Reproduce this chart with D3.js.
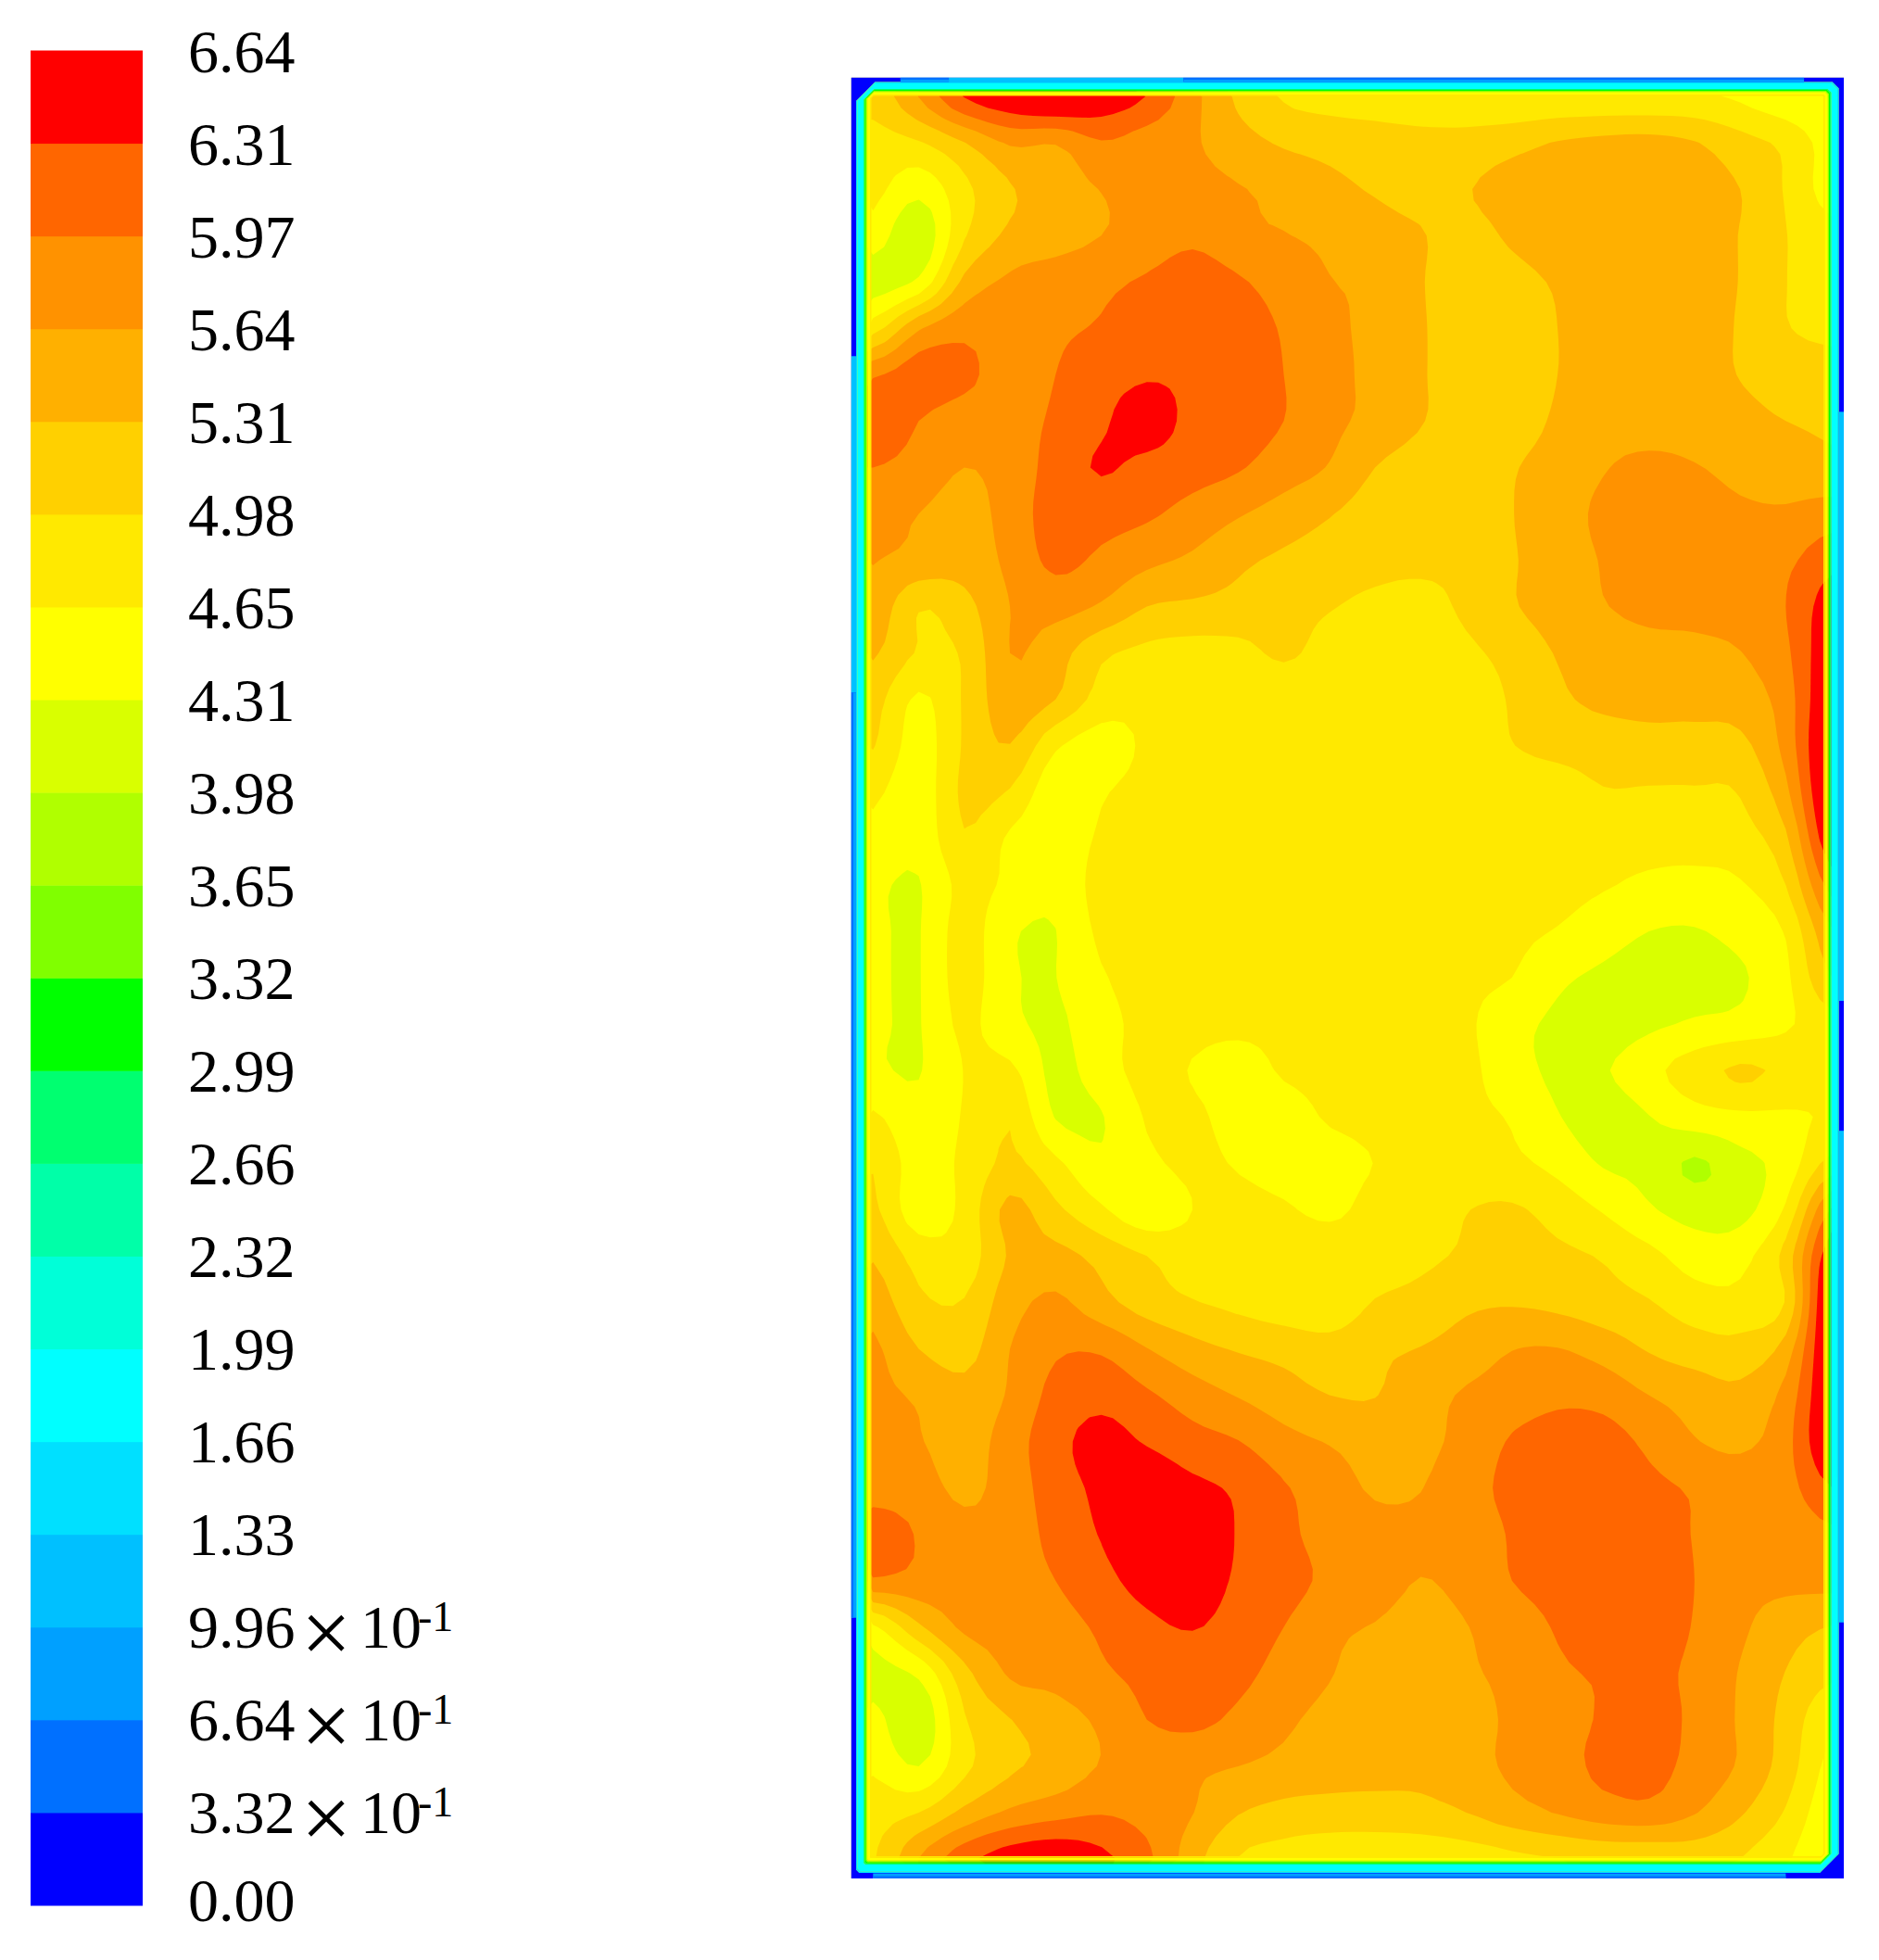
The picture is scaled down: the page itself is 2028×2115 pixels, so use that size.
<!DOCTYPE html>
<html>
<head>
<meta charset="utf-8">
<title>Contour</title>
<script src="https://cdn.jsdelivr.net/npm/d3@7"></script>
<style>
  html, body { margin: 0; padding: 0; background: #fff; }
  svg { display: block; }
  text { font-family: "Liberation Serif", "Times New Roman", serif; fill: #000; }
</style>
</head>
<body>
<div id="chart"></div>
<script>
// level values of the legend, bottom to top
const levels = [0, 0.332, 0.664, 0.996, 1.33, 1.66, 1.99, 2.32, 2.66, 2.99, 3.32, 3.65, 3.98, 4.31, 4.65, 4.98, 5.31, 5.64, 5.97, 6.31, 6.64];
const levelLabels = ['0.00', '3.32', '6.64', '9.96', '1.33', '1.66', '1.99', '2.32', '2.66', '2.99', '3.32', '3.65', '3.98', '4.31', '4.65', '4.98', '5.31', '5.64', '5.97', '6.31', '6.64'];
const levelExponents = [null, -1, -1, -1, null, null, null, null, null, null, null, null, null, null, null, null, null, null, null, null, null];
const bandColors = ['#0000ff', '#0070ff', '#00a0ff', '#00c0ff', '#00e0ff', '#00ffff', '#00ffd8', '#00ffa8', '#00ff70', '#00ff00', '#80ff00', '#b0ff00', '#d9ff00', '#ffff00', '#ffe900', '#ffd000', '#ffb000', '#ff9200', '#ff6600', '#ff0000'];

// field, one row per grid line from the top wall down
const fieldRows = [
  [5.1,5.65,6.33,6.6,6.77,6.56,6.3,5.75,5.25,4.95,4.85,4.8,4.75,4.75,4.7,4.7,4.7,4.7,4.7,4.6,4.4,4.3],
  [4.85,4.95,5.3,5.68,5.66,5.94,5.8,5.68,5.45,5.27,5.2,5.15,5.1,5.1,5.2,5.33,5.4,5.42,5.33,5.1,4.9,4.5],
  [4.75,4.42,4.9,5.28,5.5,5.65,5.8,5.75,5.66,5.55,5.4,5.28,5.2,5.29,5.45,5.5,5.5,5.5,5.45,5.31,4.95,4.5],
  [4.5,4.05,4.95,5.38,5.5,5.64,5.75,5.88,5.7,5.65,5.58,5.45,5.33,5.2,5.36,5.5,5.5,5.5,5.45,5.3,4.99,4.75],
  [4.15,4.38,5.4,5.7,5.82,5.9,6.02,6.2,6.02,5.8,5.65,5.58,5.33,5.15,5.2,5.35,5.5,5.5,5.45,5.3,4.99,4.7],
  [4.85,5.6,5.88,5.8,5.92,6.0,6.15,6.28,6.2,5.93,5.72,5.55,5.34,5.15,5.1,5.31,5.5,5.5,5.45,5.28,5.0,4.9],
  [5.93,6.15,6.05,5.82,5.97,6.15,6.27,6.25,6.15,5.97,5.75,5.55,5.34,5.15,5.1,5.31,5.45,5.5,5.42,5.3,5.18,5.1],
  [6.2,5.97,5.8,5.85,6.02,6.25,6.5,6.2,6.12,5.97,5.72,5.55,5.33,5.15,5.15,5.36,5.5,5.5,5.48,5.4,5.31,5.25],
  [5.97,5.85,5.64,5.78,6.1,6.34,6.2,6.1,6.0,5.8,5.62,5.31,5.15,5.05,5.28,5.45,5.62,5.72,5.66,5.55,5.5,5.4],
  [5.75,5.64,5.5,5.78,6.12,6.1,6.02,5.85,5.67,5.5,5.33,5.15,5.05,5.05,5.3,5.5,5.7,5.8,5.8,5.7,5.68,5.8],
  [5.65,5.55,5.45,5.72,6.05,5.9,5.72,5.58,5.38,5.25,5.15,5.08,5.05,5.05,5.28,5.48,5.66,5.8,5.85,5.85,5.9,6.2],
  [5.55,5.0,5.2,5.64,5.75,5.6,5.31,5.25,5.2,5.1,5.0,4.9,4.85,5.05,5.28,5.45,5.62,5.75,5.75,5.8,5.97,6.5],
  [5.35,4.95,5.02,5.64,5.45,5.05,4.9,4.85,4.88,5.03,4.85,4.75,4.7,4.9,5.1,5.33,5.42,5.5,5.55,5.63,5.9,6.6],
  [5.1,4.6,5.02,5.52,5.31,4.85,4.72,4.75,4.75,4.75,4.75,4.75,4.75,4.75,5.02,5.25,5.38,5.42,5.42,5.48,5.8,6.7],
  [5.0,4.5,5.02,5.3,4.7,4.5,4.7,4.75,4.75,4.75,4.75,4.75,4.75,4.78,4.97,5.08,5.13,5.18,5.18,5.22,5.75,6.8],
  [4.72,4.45,5.05,4.95,4.42,4.62,4.75,4.75,4.75,4.75,4.75,4.75,4.75,4.75,4.78,4.82,4.96,4.95,4.95,5.0,5.55,6.8],
  [4.55,4.42,4.95,4.6,4.42,4.7,4.78,4.78,4.78,4.78,4.78,4.78,4.78,4.78,4.78,4.78,4.78,4.78,4.78,4.85,5.25,6.6],
  [4.36,4.29,4.75,4.58,4.4,4.78,4.78,4.78,4.78,4.78,4.78,4.78,4.78,4.78,4.78,4.76,4.68,4.58,4.55,4.62,4.98,6.1],
  [4.36,4.29,4.8,4.36,4.305,4.72,4.78,4.78,4.78,4.78,4.78,4.78,4.78,4.78,4.72,4.63,4.45,4.31,4.29,4.42,4.68,5.6],
  [4.36,4.29,4.8,4.36,4.305,4.62,4.75,4.78,4.78,4.78,4.78,4.78,4.78,4.72,4.65,4.38,4.25,4.2,4.2,4.27,4.58,5.3],
  [4.36,4.29,4.72,4.4,4.25,4.55,4.72,4.75,4.75,4.75,4.75,4.75,4.75,4.7,4.42,4.25,4.15,4.25,4.35,4.42,4.6,4.85],
  [4.36,4.29,4.66,4.72,4.22,4.5,4.75,4.63,4.45,4.7,4.78,4.78,4.78,4.73,4.45,4.25,4.28,4.55,4.82,5.03,4.9,4.7],
  [4.7,4.42,4.68,4.95,4.29,4.29,4.68,4.72,4.5,4.45,4.7,4.78,4.78,4.72,4.62,4.33,4.15,4.3,4.5,4.58,4.6,4.68],
  [4.95,4.5,4.72,5.05,4.72,4.38,4.58,4.72,4.62,4.48,4.45,4.66,4.78,4.78,4.72,4.55,4.28,4.22,3.93,4.2,4.45,5.1],
  [5.05,4.45,4.75,5.4,5.05,4.7,4.42,4.65,4.75,4.7,4.55,4.8,4.8,4.97,5.02,4.85,4.62,4.35,4.18,4.2,4.7,6.0],
  [5.28,4.85,4.8,5.35,5.42,5.2,4.98,4.8,4.8,4.88,4.95,4.8,4.9,5.03,5.12,5.05,4.95,4.75,4.5,4.55,5.1,6.55],
  [5.5,5.05,5.0,5.5,5.7,5.42,5.15,5.0,4.9,4.8,4.75,5.0,5.1,5.25,5.28,5.22,5.1,5.0,4.8,4.75,5.0,6.8],
  [5.7,5.31,5.18,5.64,5.92,5.92,5.65,5.42,5.28,5.2,5.12,5.25,5.32,5.45,5.63,5.65,5.5,5.28,5.14,5.1,5.45,6.75],
  [5.7,5.6,5.42,5.68,6.08,6.2,6.02,5.8,5.62,5.45,5.31,5.3,5.5,5.68,5.8,5.9,5.85,5.64,5.5,5.4,5.75,6.7],
  [5.7,5.66,5.5,5.8,6.2,6.42,6.28,6.1,5.98,5.75,5.62,5.5,5.55,5.75,6.0,6.1,6.1,5.9,5.66,5.58,5.85,6.7],
  [5.72,5.75,5.58,5.78,6.16,6.38,6.55,6.4,6.25,6.0,5.8,5.6,5.63,5.85,6.05,6.2,6.15,6.05,5.93,5.8,5.85,6.3],
  [6.3,5.93,5.72,5.75,6.1,6.33,6.6,6.65,6.28,6.05,5.85,5.75,5.72,5.8,6.0,6.2,6.25,6.2,5.95,5.82,5.75,5.9],
  [5.92,5.85,5.72,5.78,5.97,6.2,6.45,6.55,6.25,6.1,5.9,5.8,5.63,5.75,5.97,6.1,6.2,6.2,5.97,5.75,5.72,5.75],
  [4.6,5.25,5.7,5.75,5.85,6.02,6.22,6.33,6.15,5.97,5.72,5.62,5.5,5.63,5.8,6.0,6.15,6.15,5.95,5.7,5.45,5.3],
  [4.2,4.38,5.2,5.68,5.75,5.92,6.05,6.1,6.05,5.85,5.66,5.5,5.5,5.6,5.72,5.92,6.0,6.05,5.9,5.62,5.3,5.05],
  [4.42,4.05,4.95,5.3,5.5,5.7,5.97,6.05,5.9,5.7,5.55,5.45,5.4,5.5,5.7,5.85,6.0,6.1,5.9,5.6,5.2,4.7],
  [4.6,4.31,4.9,5.25,5.42,5.66,5.75,5.7,5.64,5.55,5.5,5.45,5.4,5.5,5.7,5.82,6.05,6.1,5.85,5.6,5.15,4.55],
  [4.85,4.98,5.4,5.7,5.85,5.95,5.85,5.65,5.33,5.2,5.15,5.15,5.2,5.31,5.5,5.66,5.8,5.85,5.66,5.35,4.95,4.4],
  [4.95,5.65,6.2,6.5,6.6,6.4,6.05,5.45,4.97,4.85,4.8,4.78,4.75,4.8,4.9,4.97,5.05,5.05,5.1,4.98,4.7,4.3]
];

// value across the wall layer, outermost first
const wallValues = [0.1, 1.45, 1.8, 2.8, 3.15, 3.5, 4.1, 4.45, 4.8];
const wallStops = [0, 0.25, 0.32, 0.62, 0.68, 0.74, 0.78, 0.82, 0.93, 1];
// stretches of the outer wall that read higher than the corner value: side, from, to (grid units), value
const wallSides = ['left', 'left', 'top', 'top', 'top', 'right', 'right', 'bottom'];
const wallFrom = [5.6, 12.85, 0.6, 1.66, 6.8, 6.8, 22.3, 0];
const wallTo = [12.85, 32.8, 1.66, 6.8, 20.4, 19.5, 32.9, 20];
const wallLevel = [0.8, 0.5, 0.5, 0.8, 0.5, 0.8, 0.8, 0.5];

const width = 2028, height = 2115;
const nCols = fieldRows[0].length, nRows = fieldRows.length;
const refine = 4; // contours are traced on a finer mesh so they come out round

const svg = d3.select('#chart').append('svg')
  .attr('width', width).attr('height', height).attr('viewBox', `0 0 ${width} ${height}`);

const colorOf = d3.scaleThreshold().domain(levels.slice(1, -1)).range(bandColors);

const defs = svg.append('defs');
defs.append('filter').attr('id', 'soft').append('feGaussianBlur').attr('stdDeviation', 0.6);

// legend
const barY = d3.scaleBand().domain(d3.range(bandColors.length).reverse()).range([54.5, 2056]);
const legend = svg.append('g').attr('class', 'legend').attr('filter', 'url(#soft)');
legend.selectAll('rect').data(bandColors).enter().append('rect')
  .attr('x', 33).attr('width', 121)
  .attr('y', (d, i) => barY(i))
  .attr('height', barY.bandwidth() + 0.5)
  .attr('fill', d => d);

const labelY = d3.scaleLinear().domain([20, 1, 0]).range([78, 1978, 2073]);
const labels = svg.append('g').attr('class', 'labels');
levelLabels.forEach((t, i) => {
  const y = labelY(i);
  labels.append('text').attr('x', 203).attr('y', y).attr('font-size', 66).text(t);
  if (levelExponents[i] !== null) {
    labels.append('text').attr('x', 325).attr('y', y + 16).attr('font-size', 96).text('\u00d7');
    labels.append('text').attr('x', 389).attr('y', y).attr('font-size', 66).text('10');
    labels.append('text').attr('x', 451).attr('y', y - 18).attr('font-size', 46).text(levelExponents[i]);
  }
});

// plot area
const outer = { x0: 918.5, y0: 83.5, x1: 1990, y1: 2027 };
const wallThick = { left: 22, top: 20, right: 22, bottom: 24 };
const colX = d3.scaleLinear().domain([0, nCols - 1]).range([942.3, 1976.6]);
const rowY = d3.scaleLinear().domain([0, nRows - 1]).range([104, 2006]);

defs.append('clipPath').attr('id', 'plot-clip').append('rect')
  .attr('x', outer.x0).attr('y', outer.y0)
  .attr('width', outer.x1 - outer.x0).attr('height', outer.y1 - outer.y0);

const plot = svg.append('g').attr('clip-path', 'url(#plot-clip)')
  .append('g').attr('filter', 'url(#soft)');

plot.append('rect')
  .attr('x', outer.x0).attr('y', outer.y0)
  .attr('width', outer.x1 - outer.x0).attr('height', outer.y1 - outer.y0)
  .attr('fill', colorOf(4.5));

// Catmull-Rom between the read grid lines, the grid values themselves stay on the surface
function catmull(p0, p1, p2, p3, t) {
  return 0.5 * (2 * p1 + (p2 - p0) * t + (2 * p0 - 5 * p1 + 4 * p2 - p3) * t * t + (3 * p1 - p0 - 3 * p2 + p3) * t * t * t);
}

function fineField() {
  const cols = (nCols - 1) * refine + 1, rows = (nRows - 1) * refine + 1;
  const at = (j, i) => fieldRows[Math.max(0, Math.min(nRows - 1, j))][Math.max(0, Math.min(nCols - 1, i))];
  const out = new Array(cols * rows);
  for (let b = 0; b < rows; b++) {
    const j = Math.min(nRows - 2, Math.floor(b / refine)), v = b / refine - j;
    for (let a = 0; a < cols; a++) {
      const i = Math.min(nCols - 2, Math.floor(a / refine)), u = a / refine - i;
      const across = [-1, 0, 1, 2].map(d => catmull(at(j + d, i - 1), at(j + d, i), at(j + d, i + 1), at(j + d, i + 2), u));
      out[b * cols + a] = catmull(across[0], across[1], across[2], across[3], v);
    }
  }
  return { cols, rows, out };
}

const fine = fineField();
const contours = d3.contours().size([fine.cols, fine.rows]).smooth(true)
  .thresholds(levels.slice(1, -1))(fine.out);

// contour coordinates are in mesh cells, half a cell off the grid lines
const path = d3.geoPath(d3.geoTransform({
  point(x, y) { this.stream.point(colX((x - 0.5) / refine), rowY((y - 0.5) / refine)); }
}));

plot.selectAll('path.band').data(contours.filter(c => c.coordinates.length)).enter().append('path')
  .attr('class', 'band')
  .attr('d', path)
  .attr('fill', d => colorOf(d.value));

// wall layer, nested chamfered rings
function ringAt(t) {
  const xa = outer.x0 + wallThick.left * t, xb = outer.x1 - wallThick.right * t;
  const ya = outer.y0 + wallThick.top * t, yb = outer.y1 - wallThick.bottom * t;
  const k = t === 0 ? 0 : 1.1 - t;
  const tl = k * 24, tr = k * 8, br = k * 24, bl = k * 4;
  return `M${xa + tl},${ya}L${xb - tr},${ya}L${xb},${ya + tr}L${xb},${yb - br}L${xb - br},${yb}L${xa + bl},${yb}L${xa},${yb - bl}L${xa},${ya + tl}Z`;
}

plot.selectAll('path.wall').data(wallValues).enter().append('path')
  .attr('class', 'wall')
  .attr('fill-rule', 'evenodd')
  .attr('d', (d, i) => ringAt(wallStops[i]) + ringAt(wallStops[i + 1]))
  .attr('fill', d => colorOf(d));

// outer strip: pale on the high stretches, the mid ones get a darker edge on top
function drawStrips(cls, w, value) {
  plot.selectAll(`rect.${cls}`).data(wallSides).enter().append('rect')
    .attr('class', cls)
    .attr('x', (d, i) => d === 'left' ? outer.x0 : d === 'right' ? outer.x1 - w : colX(wallFrom[i]))
    .attr('y', (d, i) => d === 'top' ? outer.y0 : d === 'bottom' ? outer.y1 - w : rowY(wallFrom[i]))
    .attr('width', (d, i) => (d === 'left' || d === 'right') ? w : colX(wallTo[i]) - colX(wallFrom[i]))
    .attr('height', (d, i) => (d === 'left' || d === 'right') ? rowY(wallTo[i]) - rowY(wallFrom[i]) : w)
    .attr('fill', (d, i) => colorOf(value(i)))
    .attr('opacity', (d, i) => value(i) === null ? 0 : 1);
}
drawStrips('strip-wide', 5.5, i => wallLevel[i] < 0.8 ? 0.8 : 1.1);
drawStrips('strip-thin', 2.5, i => wallLevel[i] < 0.8 ? wallLevel[i] : null);
</script>
</body>
</html>
